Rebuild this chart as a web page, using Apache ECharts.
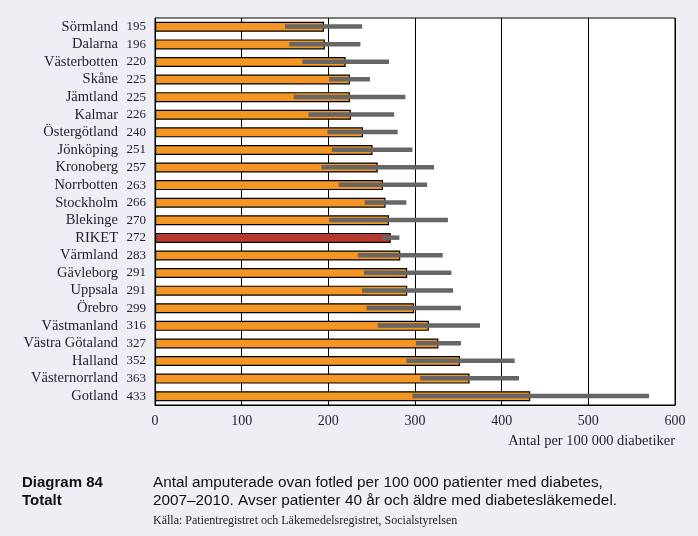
<!DOCTYPE html>
<html><head><meta charset="utf-8">
<script src="https://cdn.jsdelivr.net/npm/echarts@6/dist/echarts.min.js"></script>
<style>html,body{margin:0;padding:0;background:#EEEFF4;}#c{width:698px;height:536px;}</style>
</head><body><div id="c"></div>
<script>
const categories = ["Sörmland","Dalarna","Västerbotten","Skåne","Jämtland","Kalmar","Östergötland","Jönköping","Kronoberg","Norrbotten","Stockholm","Blekinge","RIKET","Värmland","Gävleborg","Uppsala","Örebro","Västmanland","Västra Götaland","Halland","Västernorrland","Gotland"];
const values = [195,196,220,225,225,226,240,251,257,263,266,270,272,283,291,291,299,316,327,352,363,433];
const ciLow = [150,155,170,201,160,177,199,204,192,212,242,201,262,234,241,239,244,257,301,290,306,297];
const ciHigh = [239,237,270,248,289,276,280,297,322,314,290,338,282,332,342,344,353,375,353,415,420,570];
const xTicks = [0,100,200,300,400,500,600];
const highlight = "RIKET";

const chart = echarts.init(document.getElementById('c'));
const serif = '"Liberation Serif", "DejaVu Serif", serif';
const sans = '"Liberation Sans", Arial, sans-serif';
chart.setOption({
  backgroundColor: '#EEEFF4',
  animation: false,
  grid: {left:155, right:23, top:18, bottom:131, show:true, backgroundColor:'#ffffff', borderColor:'#000', borderWidth:1},
  xAxis: {
    type:'value', min:xTicks[0], max:xTicks[xTicks.length-1], interval:100,
    axisLine:{show:true, lineStyle:{color:'#000', width:1}},
    axisTick:{show:false},
    splitLine:{show:true, lineStyle:{color:'#000', width:1}},
    axisLabel:{fontFamily:serif, fontSize:14, color:'#1e1e30', margin:9},
    name:'Antal per 100 000 diabetiker', nameLocation:'end',
    nameGap: 0,
    nameTextStyle:{fontFamily:serif, fontSize:14.5, color:'#1e1e30', align:'right', verticalAlign:'top', padding:[29,0,0,0]}
  },
  yAxis: {
    type:'category', data:categories, inverse:true,
    axisLine:{show:true, lineStyle:{color:'#000', width:1}},
    axisTick:{show:false},
    axisLabel:{
      margin:9,
      formatter:function(v, i){ return '{n|' + v + '}{v|' + values[i] + '}'; },
      rich:{
        n:{fontFamily:serif, fontSize:14.5, color:'#1e1e30', align:'right'},
        v:{fontFamily:serif, fontSize:13, color:'#1e1e30', width:28, align:'right'}
      }
    }
  },
  series: [
    {
      type:'bar', barWidth:10,
      data: values.map((v,i)=>({value:v, itemStyle:{color: categories[i]===highlight ? '#B83A2F' : '#F39623'}})),
      itemStyle:{borderColor:'#000', borderWidth:1.2}
    },
    {
      type:'custom',
      data: categories.map((c,i)=>[i, ciLow[i], ciHigh[i]]),
      encode:{y:0, x:[1,2]},
      renderItem:function(params, api){
        const i = api.value(0);
        const p1 = api.coord([api.value(1), i]);
        const p2 = api.coord([api.value(2), i]);
        return {type:'rect', shape:{x:p1[0], y:p1[1]-2.5, width:p2[0]-p1[0], height:4.5}, style:{fill:'#666666'}};
      },
      z:5
    }
  ],
  graphic: [
    {type:'text', left:22, top:475, style:{text:'Diagram 84', font:'bold 15px '+sans, fill:'#111'}},
    {type:'text', left:22, top:493, style:{text:'Totalt', font:'bold 15px '+sans, fill:'#111'}},
    {type:'text', left:153, top:475, style:{text:'Antal amputerade ovan fotled per 100 000 patienter med diabetes,', font:'15.3px '+sans, fill:'#111'}},
    {type:'text', left:153, top:493, style:{text:'2007–2010. Avser patienter 40 år och äldre med diabetesläkemedel.', font:'15.3px '+sans, fill:'#111'}},
    {type:'text', left:153, top:515, style:{text:'Källa: Patientregistret och Läkemedelsregistret, Socialstyrelsen', font:'12px '+serif, fill:'#222'}}
  ]
});
</script></body></html>
